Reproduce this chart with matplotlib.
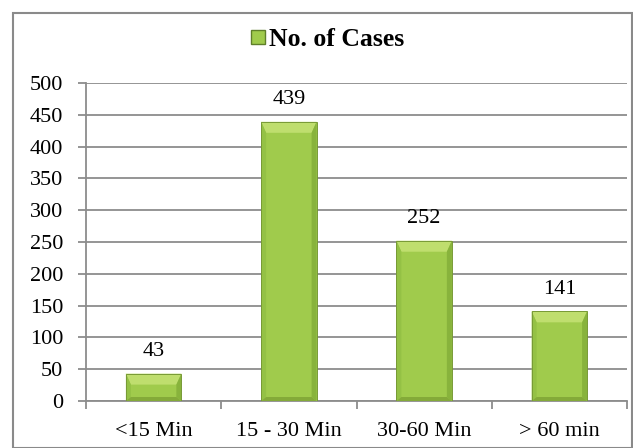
import matplotlib
matplotlib.use("Agg")
import matplotlib.pyplot as plt
from matplotlib.patches import Polygon, Rectangle
from matplotlib.lines import Line2D

categories = ["<15 Min", "15 - 30 Min", "30-60 Min", "> 60 min"]
cases = [43, 439, 252, 141]
yticks = [0, 50, 100, 150, 200, 250, 300, 350, 400, 450, 500]
series_name = "No. of Cases"

plt.rcParams['font.family'] = ['Liberation Serif', 'DejaVu Serif']

W, H = 633, 448
fig = plt.figure(figsize=(W / 100, H / 100), dpi=100)
ax = fig.add_axes([86 / W, 1 - 401 / H, (627 - 86) / W, (401 - 83) / H])

# outer chart border
fig.patches.append(Rectangle((13 / W, 0.0), (632 - 13) / W, 1 - 13 / H,
                             transform=fig.transFigure, fill=False,
                             edgecolor="#8a8a8a", linewidth=1.5, zorder=0))

x = list(range(len(categories)))
bw = 0.41
face = "#a0cb4c"
edge = "#789a36"
bars = ax.bar(x, cases, width=bw, color=face, edgecolor="none",
              linewidth=0, zorder=3)

ax.set_xlim(-0.5, len(categories) - 0.5)
ax.set_ylim(0, 500)

# bevel effect
y_per_px = 500 / (401 - 83)
x_per_px = len(categories) / (627 - 86)
sx = 5 * x_per_px
ty = 11 * y_per_px
bty = 4 * y_per_px
for b in bars:
    x0, y0 = b.get_x(), b.get_y()
    w, h = b.get_width(), b.get_height()
    x1, y1 = x0 + w, y0 + h
    dt = min(ty, h * 0.4)
    db = min(bty, h * 0.15)
    top = Polygon([(x0, y1), (x1, y1), (x1 - sx, y1 - dt), (x0 + sx, y1 - dt)],
                  closed=True, facecolor="#bfde6e", edgecolor="none", zorder=4)
    left = Polygon([(x0, y0), (x0, y1), (x0 + sx, y1 - dt), (x0 + sx, y0 + db)],
                   closed=True, facecolor="#94c145", edgecolor="none", zorder=4)
    right = Polygon([(x1, y0), (x1, y1), (x1 - sx, y1 - dt), (x1 - sx, y0 + db)],
                    closed=True, facecolor="#88b33c", edgecolor="none", zorder=4)
    bot = Polygon([(x0, y0), (x1, y0), (x1 - sx, y0 + db), (x0 + sx, y0 + db)],
                  closed=True, facecolor="#84aa39", edgecolor="none", zorder=4)
    for p in (top, left, right, bot):
        ax.add_patch(p)
    ax.add_patch(Rectangle((x0, y0), w, h, fill=False, edgecolor=edge,
                           linewidth=0.7, zorder=5))

for xi, v in zip(x, cases):
    ax.annotate(str(v), (xi, v), xytext=(0, 12.5), textcoords="offset points",
                ha="center", va="baseline", fontsize=16, color="black")

ax.set_yticks(yticks)
ax.yaxis.grid(True, color="#8c8c8c", linewidth=1.3, zorder=0)
ax.set_axisbelow(True)
ax.set_xticks(x)
ax.set_xticklabels(categories)
ax.tick_params(axis="x", length=0, labelsize=16, pad=15, colors="black")
ax.tick_params(axis="y", length=5.5, width=1.3, color="#8c8c8c", labelsize=16,
               pad=11, labelcolor="black")
# category boundary ticks
ax.set_xticks([i - 0.5 for i in range(len(categories) + 1)], minor=True)
ax.tick_params(axis="x", which="minor", length=5.5, width=1.3, color="#8c8c8c")

for s in ("top", "right"):
    ax.spines[s].set_visible(False)
for s in ("left", "bottom"):
    ax.spines[s].set_color("#8c8c8c")
    ax.spines[s].set_linewidth(1.3)

handle = Line2D([], [], marker="s", linestyle="none", markersize=10.5,
                markerfacecolor=face, markeredgecolor="#5f7f2a")
fig.legend([handle], [series_name], loc="center", bbox_to_anchor=(0.515, 0.912),
           frameon=False, prop={"weight": "bold", "size": 18.5},
           handletextpad=0.0, handlelength=0.8)

fig.savefig("out.png", dpi=100)
